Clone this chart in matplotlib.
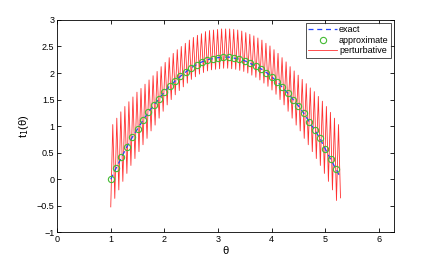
import numpy as np
import matplotlib
matplotlib.use("Agg")
import matplotlib.pyplot as plt

plt.rcParams['font.family'] = ['Liberation Sans', 'DejaVu Sans']

# exact curve
exact_theta = [1.0, 1.1, 1.2, 1.3, 1.4, 1.5, 1.6, 1.7, 1.8, 1.9, 2.0, 2.1, 2.2, 2.3, 2.4,
               2.5, 2.6, 2.7, 2.8, 2.9, 3.0, 3.1, 3.2, 3.3, 3.4, 3.5, 3.6, 3.7, 3.8, 3.9,
               4.0, 4.1, 4.2, 4.3, 4.4, 4.5, 4.6, 4.7, 4.8, 4.9, 5.0, 5.1, 5.2, 5.283]
exact_values = [0.00, 0.21, 0.41, 0.61, 0.79, 0.95, 1.11, 1.26, 1.39, 1.52, 1.64, 1.76, 1.85,
                1.94, 2.02, 2.10, 2.16, 2.21, 2.25, 2.27, 2.29, 2.30, 2.30, 2.28, 2.26, 2.23,
                2.18, 2.14, 2.08, 2.01, 1.93, 1.84, 1.73, 1.62, 1.50, 1.38, 1.24, 1.08, 0.93,
                0.77, 0.57, 0.375, 0.19, 0.03]

# approximate points
approx_theta = exact_theta[:-1]
approx_values = exact_values[:-1]

# perturbative: alternating troughs / peaks
pert_troughs = [-0.52, -0.36, -0.20, -0.04, 0.11, 0.26, 0.39, 0.52, 0.65, 0.77, 0.91, 1.02,
                1.15, 1.28, 1.40, 1.50, 1.59, 1.67, 1.74, 1.81, 1.88, 1.93, 1.98, 2.01, 2.04,
                2.06, 2.07, 2.08, 2.09, 2.09, 2.08, 2.07, 2.05, 2.03, 2.00, 1.96, 1.92, 1.87,
                1.81, 1.75, 1.68, 1.60, 1.50, 1.40, 1.28, 1.15, 1.02, 0.91, 0.77, 0.65, 0.52,
                0.39, 0.26, 0.11, -0.04, -0.20, -0.40, -0.35]
pert_peaks = [1.03, 1.15, 1.27, 1.37, 1.46, 1.55, 1.64, 1.71, 1.79, 1.87, 1.95, 2.03, 2.12,
              2.20, 2.29, 2.37, 2.44, 2.50, 2.56, 2.62, 2.67, 2.71, 2.74, 2.78, 2.80, 2.81,
              2.82, 2.83, 2.83, 2.83, 2.82, 2.81, 2.79, 2.76, 2.73, 2.70, 2.66, 2.62, 2.56,
              2.51, 2.44, 2.37, 2.29, 2.21, 2.12, 2.04, 1.96, 1.88, 1.80, 1.72, 1.65, 1.56,
              1.47, 1.37, 1.26, 1.15, 1.03]

pert_values = []
for i in range(len(pert_peaks)):
    pert_values.append(pert_troughs[i])
    pert_values.append(pert_peaks[i])
pert_values.append(pert_troughs[-1])
pert_theta = np.linspace(1.0, 2 * np.pi - 1.0, len(pert_values))

x_ticks = [0, 1, 2, 3, 4, 5, 6]
y_ticks = [-1, -0.5, 0, 0.5, 1, 1.5, 2, 2.5, 3]
y_ticklabels = ['\u22121', '\u22120.5', '0', '0.5', '1', '1.5', '2', '2.5', '3']

fig = plt.figure(figsize=(4.36, 2.62), dpi=100)
ax = fig.add_axes([0.131, 0.113, 0.773, 0.811])

ax.plot(exact_theta, exact_values, linestyle=(0, (4, 3)), color='#2244ff', lw=0.9,
        label='exact', zorder=3)
ax.plot(approx_theta, approx_values, linestyle='none', marker='o', markersize=4.5,
        markerfacecolor='none', markeredgecolor='#44bb33', markeredgewidth=0.8,
        label='approximate', zorder=4)
ax.plot(pert_theta, pert_values, color='#ff1a1a', lw=0.6, alpha=0.9,
        label='perturbative', zorder=2)

ax.set_xlim(0, 2 * np.pi)
ax.set_ylim(-1, 3)
ax.set_xticks(x_ticks)
ax.set_yticks(y_ticks)
ax.set_yticklabels(y_ticklabels)
ax.tick_params(direction='in', top=True, right=True, labelsize=6.5, length=3, width=0.6,
               pad=2)
for s in ax.spines.values():
    s.set_linewidth(0.6)

ax.set_xlabel('\u03b8', fontsize=8, labelpad=1)
ax.set_ylabel('t$_1$(\u03b8)', fontsize=8, labelpad=4)

leg = ax.legend(loc='upper right', fontsize=6.5, frameon=True, fancybox=False,
                edgecolor='black', borderpad=0.3, labelspacing=0.15, handlelength=3.2,
                handletextpad=0.2, borderaxespad=0.3)
leg.get_frame().set_linewidth(0.6)

fig.savefig('out.png', dpi=100)
